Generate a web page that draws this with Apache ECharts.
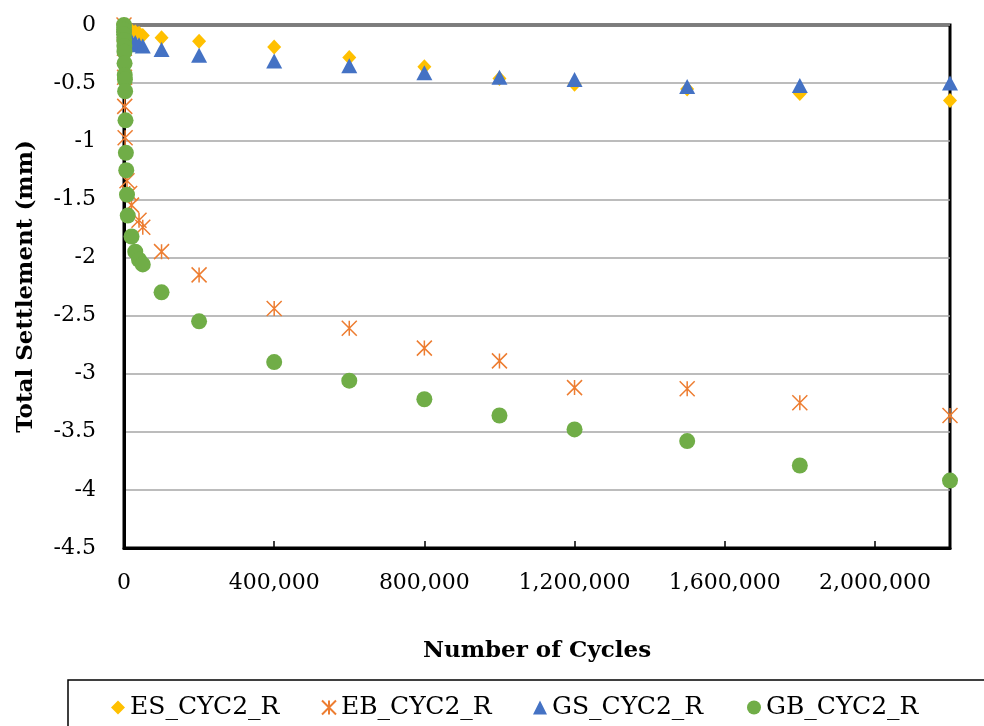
<!DOCTYPE html>
<html>
<head>
<meta charset="utf-8">
<script src="https://cdn.jsdelivr.net/npm/echarts@6/dist/echarts.min.js"></script>
<style>
  html, body { margin: 0; padding: 0; background: #fff; }
  #chart { width: 984px; height: 726px; }
</style>
</head>
<body>
<div id="chart"></div>
<script>
// [cycles, settlement mm]
const esData = [
  [0, 0], [1000, -0.01], [5000, -0.02], [10000, -0.03], [20000, -0.05],
  [30000, -0.06], [40000, -0.07], [50000, -0.09],
  [100000, -0.11], [200000, -0.14], [400000, -0.19], [600000, -0.28],
  [800000, -0.36], [1000000, -0.46], [1200000, -0.51], [1500000, -0.55],
  [1800000, -0.59], [2200000, -0.65]
]
const ebData = [
  [0, 0], [500, -0.05], [1000, -0.2], [1500, -0.45], [2000, -0.7], [3000, -0.97],
  [8000, -1.34], [15000, -1.45], [20000, -1.55], [40000, -1.68], [50000, -1.74],
  [100000, -1.95], [200000, -2.15], [400000, -2.44], [600000, -2.61],
  [800000, -2.78], [1000000, -2.89], [1200000, -3.12], [1500000, -3.13],
  [1800000, -3.25], [2200000, -3.36]
]
const gsData = [
  [0, 0], [1000, -0.05], [5000, -0.1], [10000, -0.12], [20000, -0.14],
  [30000, -0.15], [40000, -0.17], [50000, -0.18],
  [100000, -0.21], [200000, -0.26], [400000, -0.31], [600000, -0.35],
  [800000, -0.41], [1000000, -0.45], [1200000, -0.47], [1500000, -0.53],
  [1800000, -0.52], [2200000, -0.5]
]
const gbData = [
  [0, 0], [100, -0.04], [200, -0.08], [500, -0.13], [1000, -0.18],
  [1200, -0.23], [1500, -0.33], [2000, -0.43], [2500, -0.47], [3000, -0.57],
  [4000, -0.82], [5000, -1.1], [6000, -1.25], [8000, -1.46], [10000, -1.64],
  [20000, -1.82], [30000, -1.95], [40000, -2.02], [50000, -2.06],
  [100000, -2.3], [200000, -2.55], [400000, -2.9], [600000, -3.06],
  [800000, -3.22], [1000000, -3.36], [1200000, -3.48], [1500000, -3.58],
  [1800000, -3.79], [2200000, -3.92]
]
const seriesNames = ['ES_CYC2_R', 'EB_CYC2_R', 'GS_CYC2_R', 'GB_CYC2_R']
const legendLefts = [106, 316, 528, 742]

const FONT = 'DejaVu Serif'
const starPath = 'path://M0,0L10,10M10,0L0,10M5,0L5,10'

const chart = echarts.init(document.getElementById('chart'), null, { renderer: 'canvas' })

function fmt(v) {
  return String(v).replace(/\B(?=(\d{3})+(?!\d))/g, ',')
}

const option = {
  animation: false,
  grid: {
    left: 124, right: 34, top: 25, bottom: 178,
    show: true, borderColor: '#000', borderWidth: 3
  },
  legend: seriesNames.map(function (n, i) {
    return {
      data: [n],
      left: legendLefts[i],
      top: 690,
      itemWidth: 14,
      itemHeight: 14,
      itemGap: 0,
      textStyle: { fontFamily: FONT, fontSize: 25, color: '#000' }
    }
  }),
  graphic: [{
    type: 'rect',
    shape: { x: 68, y: 680, width: 940, height: 60 },
    style: { fill: 'none', stroke: '#000', lineWidth: 1.5 }
  }],
  xAxis: {
    type: 'value',
    min: 0,
    max: 2200000,
    interval: 400000,
    name: 'Number of Cycles',
    nameLocation: 'middle',
    nameGap: 92,
    nameTextStyle: { fontFamily: FONT, fontSize: 23, fontWeight: 'bold', color: '#000' },
    axisLine: { onZero: false, lineStyle: { color: '#000', width: 3 } },
    axisTick: { show: true, inside: true, length: 7, lineStyle: { color: '#000', width: 1.5 } },
    axisLabel: {
      margin: 24,
      showMaxLabel: false,
      fontFamily: FONT, fontSize: 22, color: '#000',
      formatter: fmt
    },
    splitLine: { show: false }
  },
  yAxis: {
    type: 'value',
    min: -4.5,
    max: 0,
    interval: 0.5,
    name: 'Total Settlement (mm)',
    nameLocation: 'middle',
    nameGap: 86,
    nameTextStyle: { fontFamily: FONT, fontSize: 23, fontWeight: 'bold', color: '#000' },
    axisLine: { show: true, onZero: false, lineStyle: { color: '#000', width: 3 } },
    axisTick: { show: false },
    axisLabel: { margin: 28, fontFamily: FONT, fontSize: 22, color: '#000' },
    splitLine: { show: true, lineStyle: { color: '#A6A6A6', width: 1.5 } }
  },
  series: [
    {
      name: seriesNames[0], type: 'scatter', data: esData,
      symbol: 'diamond', symbolSize: [14, 15],
      itemStyle: { color: '#FFC000', opacity: 1 }
    },
    {
      name: seriesNames[1], type: 'scatter', data: ebData,
      symbol: starPath, symbolSize: 15,
      itemStyle: { color: '#ED7D31', borderColor: '#ED7D31', borderWidth: 1.5, opacity: 1 }
    },
    {
      name: seriesNames[2], type: 'scatter', data: gsData,
      symbol: 'triangle', symbolSize: [16, 15],
      itemStyle: { color: '#4472C4', opacity: 1 }
    },
    {
      name: seriesNames[3], type: 'scatter', data: gbData,
      symbol: 'circle', symbolSize: 16,
      itemStyle: { color: '#70AD47', opacity: 1 }
    }
  ]
}

chart.setOption(option)
</script>
</body>
</html>
